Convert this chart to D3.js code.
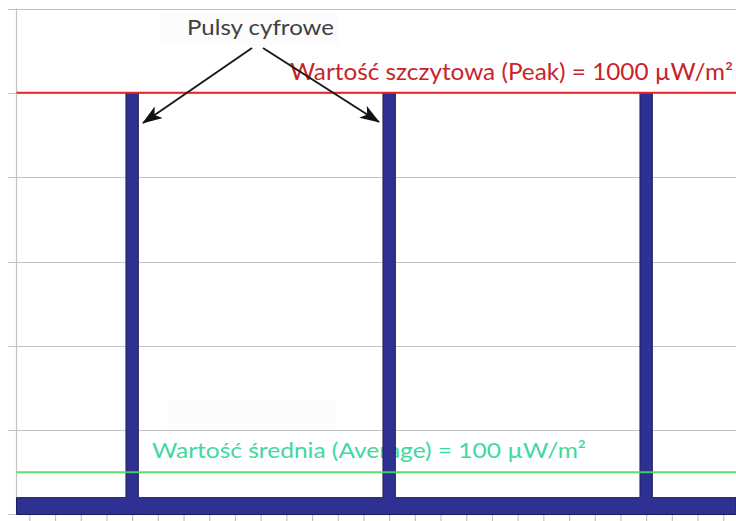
<!DOCTYPE html>
<html>
<head>
<meta charset="utf-8">
<script src="https://cdn.jsdelivr.net/npm/d3@7/dist/d3.min.js"></script>
<style>
  html, body { margin: 0; padding: 0; background: #ffffff; }
  svg { display: block; }
</style>
</head>
<body>
<svg id="chart" width="736" height="521"></svg>
<script>
// ---- data ----
const timeTicks = [0,1,2,3,4,5,6,7,8,9,10,11,12,13,14,15,16,17,18,19,20,21,22,23,24,25,26,27];
const gridValues = [200, 400, 600, 800, 1000, 1200];
const pulseCenters = [4, 14, 24];
const pulseHalfWidth = 0.24;
const lowLevel = 40;
const peakLevel = 1000;
const averageLevel = 100;
const pulseLabel = "Pulsy cyfrowe";
const peakLabel = "Wartość szczytowa (Peak) = 1000 µW/m²";
const averageLabel = "Wartość średnia (Average) = 100 µW/m²";

// ---- layout ----
const svg = d3.select("#chart");
const x = d3.scaleLinear().domain([-0.5, 27.5]).range([16.5, 736.1]);
const y = d3.scaleLinear().domain([0, 1200]).range([514.5, 8.5]);
const FONT = "Lato, 'Open Sans', sans-serif";
const gridColor = "#c3c3c3";

// gridlines with left ticks
const grid = svg.append("g");
gridValues.forEach(v => {
  grid.append("line")
    .attr("x1", 8).attr("x2", 736)
    .attr("y1", Math.round(y(v)) + 0.5).attr("y2", Math.round(y(v)) + 0.5)
    .attr("stroke", gridColor).attr("stroke-width", 1.2);
});
// y axis line
svg.append("line")
  .attr("x1", 16.5).attr("x2", 16.5)
  .attr("y1", y(1200)).attr("y2", y(0))
  .attr("stroke", gridColor).attr("stroke-width", 1.2);

// x axis
const xAxis = d3.axisBottom(x).tickValues(timeTicks).tickSize(7).tickFormat("");
const gx = svg.append("g").attr("transform", `translate(0,${y(0)})`).call(xAxis);
gx.select(".domain").remove();
gx.selectAll(".tick line").attr("stroke", gridColor).attr("stroke-width", 1.2);
svg.append("line")
  .attr("x1", 8).attr("x2", 736)
  .attr("y1", y(0)).attr("y2", y(0))
  .attr("stroke", gridColor).attr("stroke-width", 1.2);

// faint label boxes
svg.append("rect").attr("x", 160).attr("y", 12).attr("width", 178).attr("height", 34).attr("fill", "#fcfcfd");
svg.append("rect").attr("x", 167).attr("y", 400).attr("width", 168).attr("height", 30).attr("fill", "#fcfcfd");

// labels: font size from cap height, compressed to the widths
function addLabel(txt, x0, yb, fs, w, color) {
  return svg.append("text").attr("x", x0).attr("y", yb)
    .attr("font-family", FONT).attr("font-size", fs).attr("fill", color)
    .attr("textLength", w).attr("lengthAdjust", "spacingAndGlyphs")
    .text(txt);
}
addLabel(pulseLabel, 187, 35, 21, 147, "#404040");
addLabel(peakLabel, 290, 80, 22.5, 443, "#c8232b");
addLabel(averageLabel, 152, 458, 21.5, 434, "#3fd8a2");

// signal
const pts = [[-0.5, lowLevel]];
pulseCenters.forEach(c => {
  pts.push([c - pulseHalfWidth, peakLevel]);
  pts.push([c + pulseHalfWidth, lowLevel]);
});
pts.push([27.5, lowLevel]);
const area = d3.area()
  .x(d => x(d[0]))
  .y0(y(0))
  .y1(d => y(d[1]))
  .curve(d3.curveStepAfter);
svg.append("path").datum(pts).attr("d", area)
  .attr("fill", "#2e3192").attr("stroke", "#1c1c5c").attr("stroke-width", 1);

// reference lines
svg.append("line").attr("x1", 16.5).attr("x2", 736)
  .attr("y1", y(peakLevel)).attr("y2", y(peakLevel))
  .attr("stroke", "#e8262c").attr("stroke-width", 2);
svg.append("line").attr("x1", 16.5).attr("x2", 736)
  .attr("y1", y(averageLevel)).attr("y2", y(averageLevel))
  .attr("stroke", "#45dc62").attr("stroke-width", 2).attr("opacity", 0.9);

// arrows
const defs = svg.append("defs");
defs.append("marker").attr("id", "ah")
  .attr("markerUnits", "userSpaceOnUse")
  .attr("viewBox", "0 0 20 14").attr("refX", 19).attr("refY", 7)
  .attr("markerWidth", 20).attr("markerHeight", 14)
  .attr("orient", "auto")
  .append("path").attr("d", "M0,0 L20,7 L0,14 L5,7 Z").attr("fill", "#111");
const arrows = [
  {x1: 252, y1: 48, x2: 143, y2: 123},
  {x1: 263, y1: 48, x2: 379, y2: 122}
];
arrows.forEach(a => {
  svg.append("line").attr("x1", a.x1).attr("y1", a.y1).attr("x2", a.x2).attr("y2", a.y2)
    .attr("stroke", "#1a1a1a").attr("stroke-width", 2).attr("marker-end", "url(#ah)");
});
</script>
</body>
</html>
